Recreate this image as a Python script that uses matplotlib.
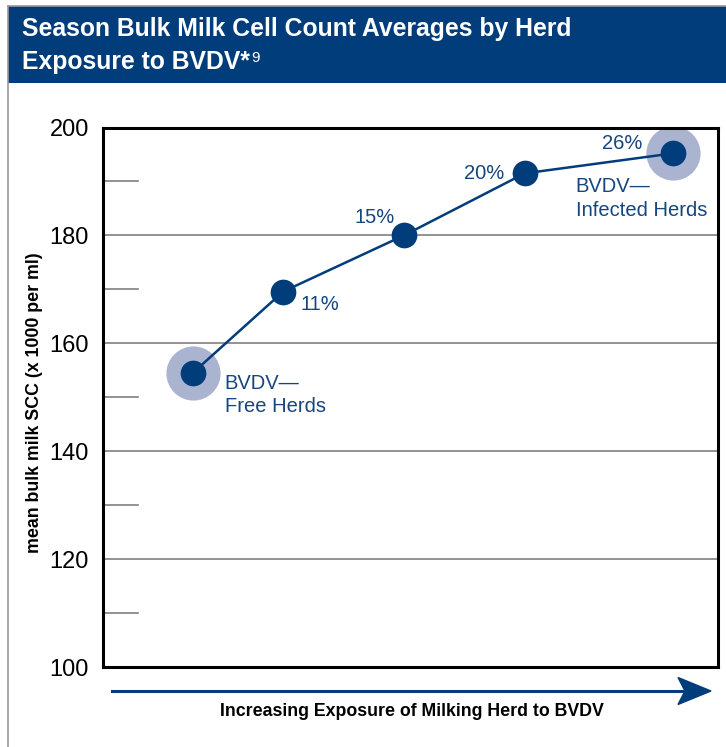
import matplotlib.pyplot as plt
from matplotlib.patches import Rectangle
from matplotlib.lines import Line2D

plt.rcParams['font.family'] = ['Liberation Sans', 'DejaVu Sans']

# data
exposure_pos = [89.7, 180.3, 301.0, 421.7, 569.7]   # position along the exposure axis
scc = [154.5, 169.6, 180.0, 191.5, 195.2]
pct_labels = ['', '11%', '15%', '20%', '26%']
yticks = [100, 120, 140, 160, 180, 200]
minor_ticks = [110, 130, 150, 170, 190]

navy = '#013d7b'
halo = '#aab4d0'
label_col = '#17457e'

W, H = 726, 747
fig = plt.figure(figsize=(W / 100, H / 100), dpi=100)
fig.patch.set_facecolor('white')


def fx(px):
    return px / W


def fy(py):
    return 1 - py / H


# frame + header band
fig.add_artist(Line2D([fx(8), fx(8)], [fy(6), 0], color='#9a9a9a', lw=1.2,
                      transform=fig.transFigure))
fig.add_artist(Line2D([fx(8), 1], [fy(5.5), fy(5.5)], color='#9a9a9a', lw=1.2,
                      transform=fig.transFigure))
fig.add_artist(Rectangle((fx(8), fy(83)), 1 - fx(8), fy(6) - fy(83),
                         facecolor=navy, edgecolor='none', transform=fig.transFigure))

title1 = fig.text(fx(22), fy(29), 'Season Bulk Milk Cell Count Averages by Herd',
                  color='white', fontsize=17.8, fontweight='bold', va='center')
title2 = fig.text(fx(22), fy(62), 'Exposure to BVDV*', color='white',
                  fontsize=17.8, fontweight='bold', va='center')
fig.canvas.draw()
bb = title2.get_window_extent()
fig.text(bb.x1 / W + 0.002, fy(58), '9', color='white', fontsize=11, va='center')

# axes
ax = fig.add_axes([fx(103), fy(667), fx(718) - fx(103), fy(127.5) - fy(667)])
ax.set_xlim(0, 615)
ax.set_ylim(100, 200)

for y in yticks[1:-1]:
    ax.axhline(y, color='#808080', lw=1.2, zorder=1)
for y in minor_ticks:
    ax.axhline(y, xmin=0, xmax=35 / 615, color='#808080', lw=1.2, zorder=1)

for s in ax.spines.values():
    s.set_linewidth(2.2)
    s.set_color('black')

ax.set_xticks([])
ax.set_yticks(yticks)
ax.set_yticklabels([str(v) for v in yticks], fontsize=17)
ax.tick_params(axis='y', length=0, pad=10)

ax.plot(exposure_pos, scc, color=navy, lw=1.8, zorder=3)
ax.plot([exposure_pos[0], exposure_pos[-1]], [scc[0], scc[-1]], 'o', ms=39,
        color=halo, mec='none', zorder=2)
ax.plot(exposure_pos, scc, 'o', ms=18.5, color=navy, mec='none', zorder=4)

offsets = [None, (17, -13, 'left'), (-9, 18, 'right'), (-20, 0, 'right'), (-30, 10, 'right')]
for x, y, lab, off in zip(exposure_pos, scc, pct_labels, offsets):
    if off is None:
        continue
    ax.annotate(lab, (x, y), xytext=(off[0], off[1]), textcoords='offset pixels',
                ha=off[2], va='center', fontsize=14.5, color=label_col, zorder=5)

ax.annotate('BVDV\u2014\nFree Herds', (exposure_pos[0], scc[0]), xytext=(32, -22),
            textcoords='offset pixels', ha='left', va='center', fontsize=14.5,
            color=label_col, linespacing=1.3)
ax.annotate('BVDV\u2014\nInfected Herds', (exposure_pos[-1], scc[-1]), xytext=(-97, -45),
            textcoords='offset pixels', ha='left', va='center', fontsize=14.5,
            color=label_col, linespacing=1.3)

fig.text(fx(35), fy(403), 'mean bulk milk SCC (x 1000 per ml)', rotation=90,
         fontsize=12.8, fontweight='bold', ha='center', va='center')

# exposure arrow
fig.add_artist(Line2D([fx(112), fx(682)], [fy(691), fy(691)], color=navy, lw=2.2,
                      transform=fig.transFigure))
fig.add_artist(plt.Polygon([[fx(678), fy(677.5)], [fx(711), fy(691)],
                            [fx(678), fy(704.5)], [fx(685), fy(691)]],
                           closed=True, color=navy, transform=fig.transFigure))
fig.text(fx(412), fy(711), 'Increasing Exposure of Milking Herd to BVDV',
         fontsize=12.8, fontweight='bold', ha='center', va='center')

fig.savefig('out.png', dpi=100)
